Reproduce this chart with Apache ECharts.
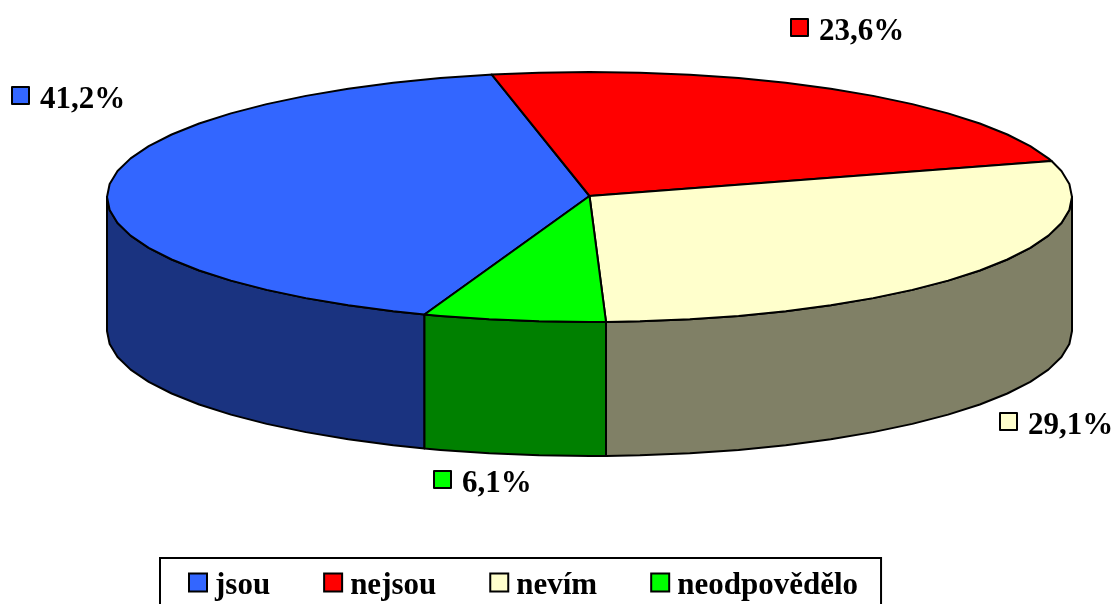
<!DOCTYPE html>
<html>
<head>
<meta charset="utf-8">
<style>
  html, body { margin: 0; padding: 0; background: #fff; overflow: hidden; }
  #chart { width: 1114px; height: 604px; }
</style>
</head>
<body>
<div id="chart"></div>
<script src="https://cdn.jsdelivr.net/npm/echarts@6/dist/echarts.min.js"></script>
<script>
// data, legend order = clockwise order on the pie
var categories = ["jsou", "nejsou", "nevím", "neodpovědělo"];
var values = [41.2, 23.6, 29.1, 6.1];
var topColors = ["#3366FF", "#FF0000", "#FFFFCC", "#00FF00"];
var sideColors = ["#1A3380", "#800000", "#808066", "#008000"];

// where the labels sit (square left, square top)
var labelPos = [[12, 87], [791, 19], [1000, 413], [434, 471]];

var FONT = '"Liberation Serif", "Times New Roman", serif';
var cx = 589.5, cy = 197, rx = 482.5, ry = 125, depth = 134;
var startAngle = 200; // degrees clockwise from the top of the ellipse
var arcStep = 6; // the outline in the original is a coarse polyline

var total = values.reduce(function (a, b) { return a + b; }, 0);

function pt(deg, dy) {
  var r = deg * Math.PI / 180;
  return [cx + rx * Math.sin(r), cy - ry * Math.cos(r) + (dy || 0)];
}

function arc(from, to, dy) {
  var pts = [pt(from, dy)];
  var a = (Math.floor(from / arcStep) + 1) * arcStep;
  for (; a < to; a += arcStep) pts.push(pt(a, dy));
  pts.push(pt(to, dy));
  return pts;
}

function renderSlice(idx, params, api) {
  var before = 0;
  for (var i = 0; i < idx; i++) before += values[i];
  var from = startAngle + before / total * 360;
  var to = from + api.value(0) / total * 360;
  var stroke = { stroke: "#000", lineWidth: 2, lineJoin: "round" };
  var children = [];

  // front wall, only the part between 90 and 270 degrees shows
  [0, 360].forEach(function (shift) {
    var a = Math.max(from - shift, 90), b = Math.min(to - shift, 270);
    if (b > a) {
      var wall = arc(a, b, 0).concat(arc(a, b, depth).reverse());
      children.push({
        type: "polygon",
        z2: 1,
        shape: { points: wall },
        style: Object.assign({ fill: sideColors[idx] }, stroke)
      });
    }
  });

  children.push({
    type: "polygon",
    z2: 2,
    shape: { points: [[cx, cy - 1]].concat(arc(from, to, 0)) },
    style: Object.assign({ fill: topColors[idx] }, stroke)
  });

  // label: small square and the percentage
  var p = labelPos[idx];
  children.push({
    type: "rect",
    z2: 3,
    shape: { x: p[0], y: p[1], width: 17, height: 17 },
    style: Object.assign({ fill: topColors[idx] }, stroke)
  });
  children.push({
    type: "text",
    z2: 3,
    style: {
      text: api.value(0).toFixed(1).replace(".", ",") + "%",
      x: p[0] + 28,
      y: p[1] + 13,
      verticalAlign: "middle",
      fill: "#000",
      fontFamily: FONT,
      fontWeight: "bold",
      fontSize: 31
    }
  });
  return { type: "group", children: children };
}

var chart = echarts.init(document.getElementById("chart"), null, { renderer: "canvas" });
chart.setOption({
  animation: false,
  backgroundColor: "#fff",
  legend: {
    data: categories,
    left: 160,
    top: 558,
    orient: "horizontal",
    selectedMode: false,
    icon: "rect",
    itemWidth: 18,
    itemHeight: 18,
    itemGap: 53,
    padding: [12, 23, 40, 28],
    borderColor: "#000",
    borderWidth: 2,
    itemStyle: { borderColor: "#000", borderWidth: 2 },
    formatter: "{a|{name}}",
    textStyle: {
      color: "#000",
      rich: {
        a: {
          fontFamily: FONT,
          fontWeight: "bold",
          fontSize: 31,
          padding: [6, 0, 0, 3]
        }
      }
    }
  },
  series: categories.map(function (name, i) {
    return {
      type: "custom",
      name: name,
      coordinateSystem: "none",
      silent: true,
      itemStyle: { color: topColors[i] },
      data: [[values[i]]],
      renderItem: function (params, api) { return renderSlice(i, params, api); }
    };
  })
});
</script>
</body>
</html>
